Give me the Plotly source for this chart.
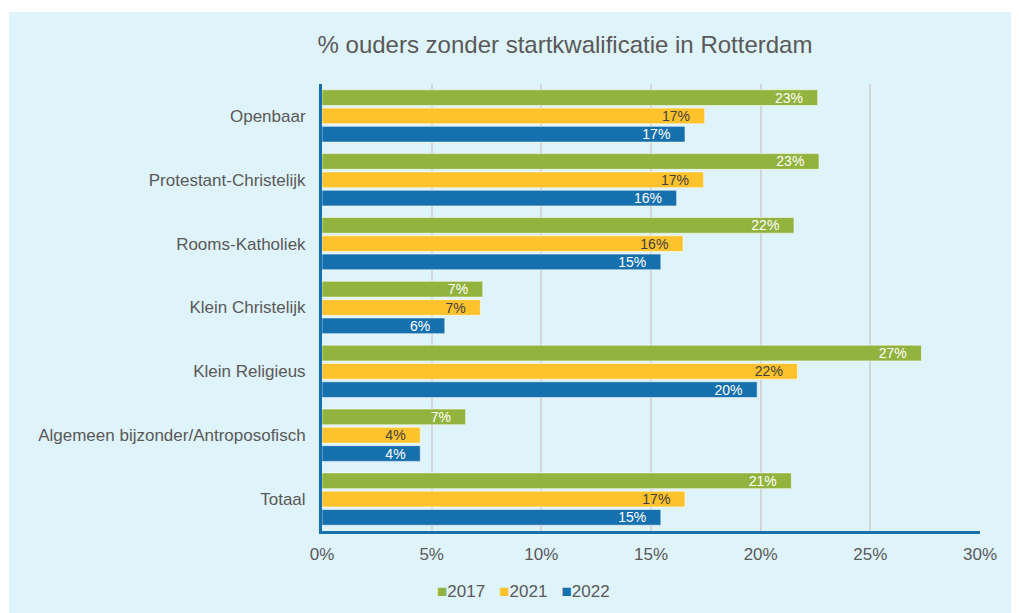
import plotly.graph_objects as go

categories = ["Openbaar", "Protestant-Christelijk", "Rooms-Katholiek", "Klein Christelijk",
              "Klein Religieus", "Algemeen bijzonder/Antroposofisch", "Totaal"]
years = ["2017", "2021", "2022"]
v2017 = [22.6, 22.66, 21.52, 7.33, 27.33, 6.55, 21.4]
v2021 = [17.45, 17.4, 16.46, 7.22, 21.68, 4.48, 16.55]
v2022 = [16.55, 16.17, 15.45, 5.6, 19.84, 4.48, 15.45]
series = [v2017, v2021, v2022]
colors = ["#92b33e", "#fec22c", "#1570ad"]
text_colors = ["white", "#404040", "white"]
x_ticks = [0, 5, 10, 15, 20, 25, 30]

FONT = "Liberation Sans, Arial, sans-serif"
GRAY = "#595959"

fig = go.Figure()
for name, vals, c, tc in zip(years, series, colors, text_colors):
    fig.add_trace(go.Bar(
        y=categories, x=vals, name=name, orientation="h",
        marker=dict(color=c, line=dict(color="rgba(255,255,255,0.55)", width=1)),
        texttemplate="%{x:.0f}%&nbsp;&nbsp;&nbsp;", textposition="inside",
        insidetextanchor="end", constraintext="none",
        textfont=dict(color=tc, size=14, family=FONT),
        hoverinfo="skip", showlegend=False,
    ))

# the page body adds an 8px offset, so the figure is laid out 8px smaller
W, H = 1011, 605
L, R, T, B = 314, 39, 76, 82
pw, ph = W - L - R, H - T - B

# light-blue chart panel
fig.add_shape(type="rect", xref="paper", yref="paper", layer="below",
              x0=(1 - L) / pw, x1=(W + 5 - L) / pw,
              y0=-(B + 5) / ph, y1=(H - B - 4) / ph,
              fillcolor="#dff3fa", line=dict(width=0))

# compact legend (square marker directly before the year, like the original)
legend_text = "&nbsp;&nbsp;&nbsp;".join(
    f'<span style="color:{c}">■</span>{n}' for n, c in zip(years, colors))
fig.add_annotation(text=legend_text, xref="paper", yref="paper",
                   x=(515 - L) / pw, y=-(583 - (H - B)) / ph,
                   xanchor="center", yanchor="middle", showarrow=False,
                   font=dict(size=17, color=GRAY, family=FONT))

fig.update_layout(
    width=W, height=H,
    margin=dict(l=L, r=R, t=T, b=B),
    paper_bgcolor="white", plot_bgcolor="rgba(0,0,0,0)",
    barmode="group", bargap=0.14, bargroupgap=0.14,
    font=dict(family=FONT, color=GRAY, size=17),
    title=dict(text="% ouders zonder startkwalificatie in Rotterdam",
               x=557 / W, xref="container", xanchor="center",
               y=1 - 37 / H, yref="container", yanchor="middle",
               font=dict(size=24, color=GRAY, family=FONT)),
    showlegend=False,
)
fig.update_xaxes(range=[0, 30], tickvals=x_ticks, ticktext=[f"{t}%" for t in x_ticks],
                 showgrid=True, gridcolor="#d2d6d8", gridwidth=1.5,
                 showline=True, linecolor="#1570ad", linewidth=3,
                 zeroline=False, ticks="", ticklabelstandoff=6,
                 tickfont=dict(size=17, color=GRAY))
fig.update_yaxes(autorange="reversed", showline=True, linecolor="#1570ad", linewidth=3,
                 showgrid=False, ticks="", ticklabelstandoff=10,
                 tickfont=dict(size=17, color=GRAY))

fig.write_html("out.html")
